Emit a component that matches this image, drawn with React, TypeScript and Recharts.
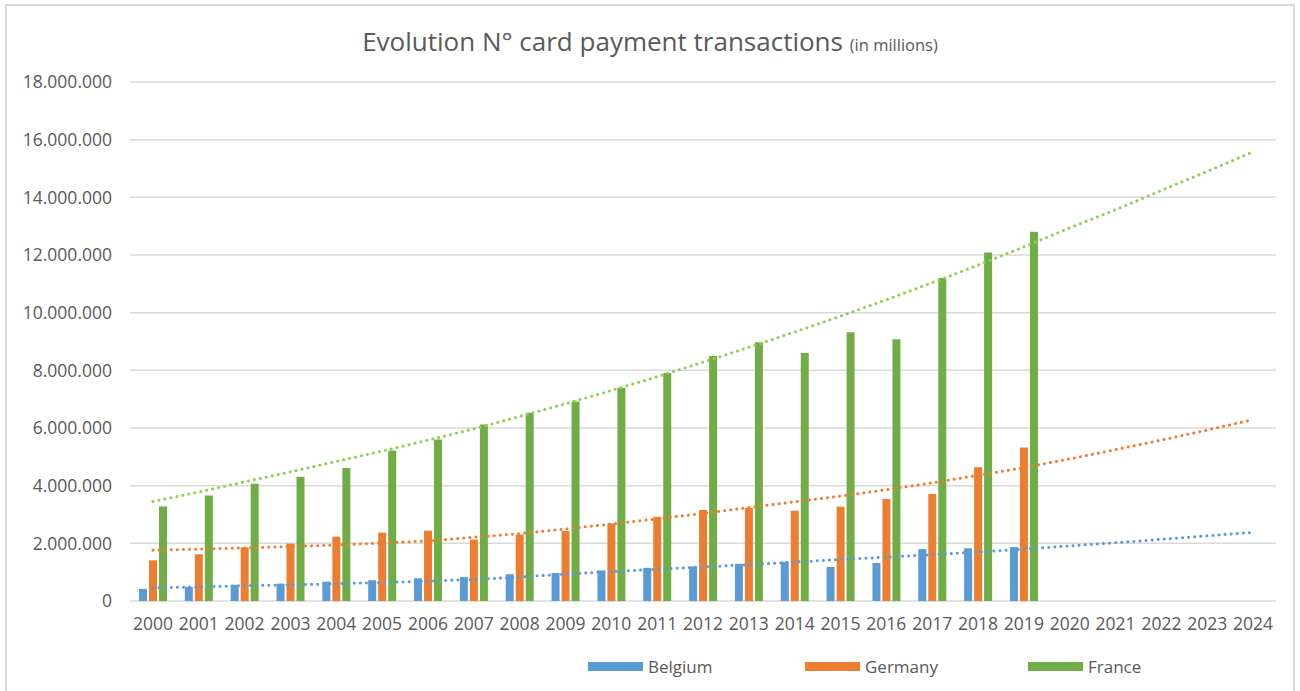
import React from "react";
import { Bar, CartesianGrid, ComposedChart, Line, XAxis, YAxis } from "recharts";

const years = [
  "2000", "2001", "2002", "2003", "2004", "2005", "2006", "2007", "2008", "2009",
  "2010", "2011", "2012", "2013", "2014", "2015", "2016", "2017", "2018", "2019",
  "2020", "2021", "2022", "2023", "2024"
];

// bar values, 2000-2019
const belgium = [
  420000, 490000, 560000, 600000, 670000, 720000, 790000, 830000, 930000, 970000,
  1060000, 1150000, 1200000, 1290000, 1360000, 1180000, 1320000, 1800000, 1830000, 1870000
];
const germany = [
  1410000, 1620000, 1860000, 1990000, 2230000, 2370000, 2440000, 2130000, 2300000, 2430000,
  2690000, 2920000, 3160000, 3230000, 3130000, 3270000, 3540000, 3710000, 4640000, 5320000
];
const france = [
  3280000, 3660000, 4070000, 4310000, 4610000, 5220000, 5600000, 6120000, 6530000, 6920000,
  7400000, 7910000, 8500000, 8970000, 8600000, 9320000, 9080000, 11200000, 12090000, 12810000
];

// trend lines, 2000-2024
const belgiumTrend = [
  460000, 490000, 530000, 560000, 600000, 640000, 690000, 750000, 830000, 930000,
  1020000, 1100000, 1180000, 1260000, 1350000, 1440000, 1520000, 1610000, 1700000, 1800000,
  1910000, 2020000, 2140000, 2260000, 2380000
];
const germanyTrend = [
  1760000, 1800000, 1840000, 1890000, 1940000, 2010000, 2090000, 2210000, 2340000, 2500000,
  2670000, 2850000, 3040000, 3240000, 3440000, 3640000, 3860000, 4100000, 4360000, 4630000,
  4930000, 5250000, 5580000, 5930000, 6290000
];
const franceTrend = [
  3450000, 3780000, 4130000, 4480000, 4840000, 5200000, 5580000, 5970000, 6400000, 6840000,
  7300000, 7780000, 8280000, 8800000, 9330000, 9880000, 10450000, 11040000, 11650000, 12280000,
  12940000, 13570000, 14240000, 14900000, 15580000
];

const yTicks = [0, 2000000, 4000000, 6000000, 8000000, 10000000, 12000000, 14000000, 16000000, 18000000];

const series = [
  { key: "belgium", name: "Belgium", color: "#5b9bd5", trend: "#5b9bd5", legendX: 588 },
  { key: "germany", name: "Germany", color: "#ed7d31", trend: "#ed7d31", legendX: 805 },
  { key: "france", name: "France", color: "#70ad47", trend: "#8fcf52", legendX: 1028 }
];

const data = years.map((year, i) => ({
  year,
  belgium: belgium[i],
  germany: germany[i],
  france: france[i],
  belgiumTrend: belgiumTrend[i],
  germanyTrend: germanyTrend[i],
  franceTrend: franceTrend[i]
}));

const FONT = "'Open Sans', sans-serif";
const TEXT = "#595959";

function formatDots(value: number) {
  return String(Math.round(value)).replace(/\B(?=(\d{3})+(?!\d))/g, ".");
}

function ChartLegend() {
  return (
    <>
      {series.map((s) => (
        <div
          key={s.key}
          style={{
            position: "absolute",
            left: s.legendX,
            top: 654,
            height: 24,
            display: "flex",
            alignItems: "center",
            fontFamily: FONT,
            fontSize: 17,
            color: TEXT
          }}
        >
          <span style={{ display: "inline-block", width: 55, height: 9, background: s.color, marginRight: 5 }} />
          <span>{s.name}</span>
        </div>
      ))}
    </>
  );
}

export default function App() {
  return (
    <div style={{ position: "absolute", left: 0, top: 0, width: 1300, height: 691, background: "#fff", overflow: "hidden" }}>
      <div
        style={{
          position: "absolute",
          left: 5,
          top: 4,
          width: 1290,
          height: 700,
          border: "2px solid #d9d9d9",
          boxSizing: "border-box"
        }}
      />
      <div
        style={{
          position: "absolute",
          left: 0,
          top: 22,
          width: 1300,
          textAlign: "center",
          fontFamily: FONT,
          color: TEXT,
          fontSize: 26,
          lineHeight: "38px"
        }}
      >
        Evolution N° card payment transactions <span style={{ fontSize: 16.5 }}>(in millions)</span>
      </div>
      <ComposedChart
        width={1300}
        height={691}
        data={data}
        margin={{ top: 82, right: 24, bottom: 0, left: 0 }}
        barSize={8}
        barGap={2}
        style={{ position: "absolute", left: 0, top: 0 }}
      >
        <CartesianGrid horizontal vertical={false} stroke="#d9d9d9" strokeWidth={1.5} />
        <XAxis
          dataKey="year"
          height={90}
          axisLine={false}
          tickLine={false}
          tickMargin={11}
          interval={0}
          tick={{ fill: TEXT, fontSize: 17.5, fontFamily: FONT }}
        />
        <YAxis
          width={130}
          domain={[0, 18000000]}
          ticks={yTicks}
          axisLine={false}
          tickLine={false}
          tickMargin={12}
          tickFormatter={formatDots}
          tick={{ fill: TEXT, fontSize: 17.5, fontFamily: FONT }}
        />
        {series.map((s) => (
          <Bar key={s.key} dataKey={s.key} name={s.name} fill={s.color} isAnimationActive={false} />
        ))}
        {series.map((s) => (
          <Line
            key={s.key + "Trend"}
            dataKey={s.key + "Trend"}
            type="monotone"
            stroke={s.trend}
            strokeWidth={3}
            strokeDasharray="0.1 6"
            strokeLinecap="round"
            dot={false}
            activeDot={false}
            legendType="none"
            isAnimationActive={false}
          />
        ))}
      </ComposedChart>
      <ChartLegend />
    </div>
  );
}
